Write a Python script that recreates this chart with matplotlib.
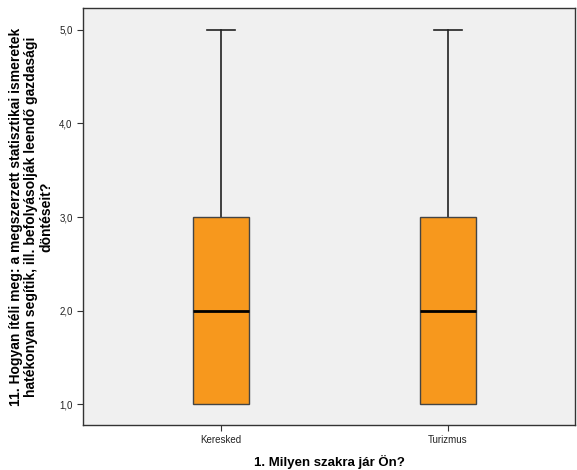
import matplotlib.pyplot as plt

plt.rcParams['font.family'] = ['Liberation Sans', 'DejaVu Sans']

categories = ["Keresked", "Turizmus"]
whisker_low = [1.0, 1.0]
q1 = [1.0, 1.0]
median = [2.0, 2.0]
q3 = [3.0, 3.0]
whisker_high = [5.0, 5.0]
yticks = [1.0, 2.0, 3.0, 4.0, 5.0]

stats = []
for i, name in enumerate(categories):
    stats.append({"label": name, "whislo": whisker_low[i], "q1": q1[i], "med": median[i],
                  "q3": q3[i], "whishi": whisker_high[i], "fliers": []})

fig = plt.figure(figsize=(5.77, 4.70), dpi=100)
ax = fig.add_axes([83 / 577, 45 / 470, 492 / 577, 417 / 470])
ax.set_facecolor("#f0f0f0")

bp = ax.bxp(stats, positions=[1, 2], widths=0.25, patch_artist=True, showfliers=False,
            boxprops=dict(facecolor="#f7981d", edgecolor="#444444", linewidth=1, zorder=3),
            medianprops=dict(color="black", linewidth=2, zorder=4),
            whiskerprops=dict(color="#222222", linewidth=1.2, zorder=2),
            capprops=dict(color="#222222", linewidth=1.2, zorder=2),
            capwidths=0.125)
# lower cap sits under the box edge, drawn lighter as in the source
for c in bp["caps"][0::2]:
    c.set_color("#999999")

ax.set_xlim(0.392, 2.559)
ax.set_ylim(0.776, 5.235)
ax.set_yticks(yticks)
ax.set_yticklabels([("%.1f" % v).replace(".", ",") for v in yticks], fontsize=7, color="#222222")
ax.set_xticks([1, 2])
ax.set_xticklabels(categories, fontsize=7, color="#222222")
ax.tick_params(length=4, color="#333333")

for s in ax.spines.values():
    s.set_color("#333333")
    s.set_linewidth(1)

ax.set_xlabel("1. Milyen szakra jár Ön?", fontsize=9.5, fontweight="bold", labelpad=7)
ax.set_ylabel("11. Hogyan ítéli meg: a megszerzett statisztikai ismeretek\n"
              "hatékonyan segítik, ill. befolyásolják leendő gazdasági\n"
              "döntéseit?", fontsize=10, fontweight="bold",
              linespacing=1.1, va="center")
ax.yaxis.set_label_coords(-0.106, 0.5)

fig.savefig("out.png", dpi=100)
